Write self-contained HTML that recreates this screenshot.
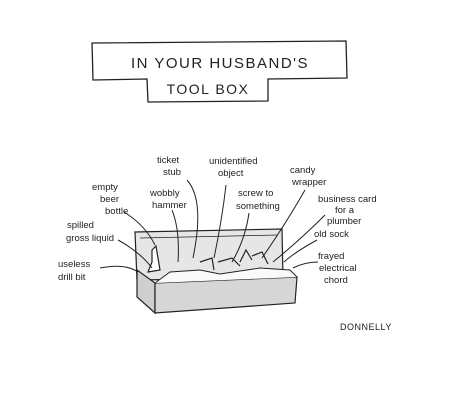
<!DOCTYPE html>
<html><head><meta charset="utf-8"><style>
html,body{margin:0;padding:0;background:#fff;}
svg{display:block;}
text{font-family:"Liberation Sans",sans-serif;fill:#222;}
.l{font-size:9.5px;}
</style></head><body>
<svg width="450" height="403" viewBox="0 0 450 403">
<g fill="none" stroke="#222" stroke-width="1.3">
<path d="M92 43 L346 41 L347 78 L268 79 L268 101 L148 102 L147 79 L93 80 Z"/>
</g>
<text x="220" y="68" text-anchor="middle" font-size="15" letter-spacing="1.5">IN YOUR HUSBAND'S</text>
<text x="208" y="94" text-anchor="middle" font-size="14" letter-spacing="1.5">TOOL BOX</text>

<g stroke="#222" stroke-width="1.2" fill="none">
<path d="M135 232 L282 229 L283 278 L137 280 Z" fill="#e6e6e6"/>
<path d="M140 238 L278 235" stroke-width="0.8"/>
<path d="M137 270 L155 283 L155 313 L137 297 Z" fill="#cfcfcf"/>
<path d="M155 283 L297 277 L295 303 L155 313 Z" fill="#d6d6d6"/>
<path d="M148 272 L160 270 L158 258 L156 246 L152 250 L152 262 Z" fill="#fff"/>
<path d="M155 283 L170 272 L200 270 L220 274 L260 268 L290 270 L297 277" fill="#fafafa" stroke-width="0.9"/>
<path d="M200 262 L212 258 L214 270" /><path d="M218 262 L232 258 L240 266" />
<path d="M240 262 L246 250 L252 260" /><path d="M252 256 L262 252 L268 264" />
</g>
<g stroke="#222" stroke-width="1" fill="none">
<path d="M124 212 Q145 225 155 245"/><path d="M118 240 Q140 252 152 268"/>
<path d="M100 268 Q125 263 138 272"/><path d="M172 210 Q180 230 178 262"/>
<path d="M187 180 Q205 200 193 258"/><path d="M226 185 Q222 220 214 258"/>
<path d="M249 213 Q245 240 232 262"/><path d="M305 190 Q285 225 262 258"/>
<path d="M325 215 Q300 240 273 262"/><path d="M317 240 Q295 252 284 262"/>
<path d="M318 262 Q305 262 293 268"/>
</g>
<g>
<text class="l" x="157" y="163">ticket</text><text class="l" x="163" y="175">stub</text>
<text class="l" x="209" y="164">unidentified</text><text class="l" x="218" y="176">object</text>
<text class="l" x="92" y="190">empty</text><text class="l" x="100" y="202">beer</text><text class="l" x="105" y="214">bottle</text>
<text class="l" x="150" y="196">wobbly</text><text class="l" x="152" y="208">hammer</text>
<text class="l" x="67" y="228">spilled</text><text class="l" x="66" y="241">gross liquid</text>
<text class="l" x="58" y="267">useless</text><text class="l" x="58" y="280">drill bit</text>
<text class="l" x="238" y="196">screw to</text><text class="l" x="236" y="209">something</text>
<text class="l" x="290" y="173">candy</text><text class="l" x="292" y="185">wrapper</text>
<text class="l" x="318" y="202">business card</text><text class="l" x="335" y="213">for a</text><text class="l" x="327" y="224">plumber</text>
<text class="l" x="314" y="237">old sock</text>
<text class="l" x="318" y="259">frayed</text><text class="l" x="319" y="271">electrical</text><text class="l" x="324" y="283">chord</text>
</g>
<text x="340" y="330" font-size="9" letter-spacing="0.5">DONNELLY</text>
</svg>
</body></html>
